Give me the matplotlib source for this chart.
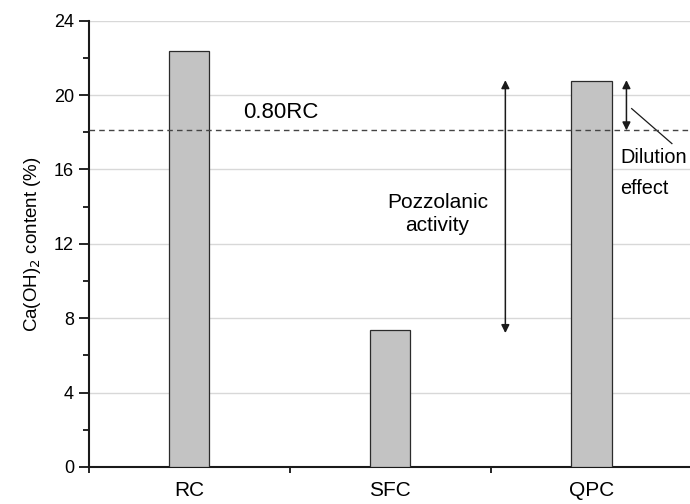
import numpy as np
import matplotlib.pyplot as plt

plt.rcParams['font.family'] = ['Liberation Sans', 'DejaVu Sans']

# data
categories = ['RC', 'SFC', 'QPC']
caoh2 = [22.35, 7.35, 20.75]
ref_level = 18.1          # 0.80 x RC
pozz_span = (7.2, 20.8)   # arrow between SFC and QPC tops
dil_span = (18.1, 20.8)   # arrow between 0.80RC and QPC

fig = plt.figure(figsize=(6.9, 5.04), dpi=100)
ax = fig.add_axes([0.1284, 0.0735, 0.8716, 0.8855])

x = np.arange(len(categories))
ax.bar(x, caoh2, width=0.2, color='#c3c3c3', edgecolor='#2b2b2b',
       linewidth=0.9, zorder=3)

ax.set_xlim(-0.5, 2.49)
ax.set_ylim(0, 24)
ax.set_yticks(np.arange(0, 25, 4))
ax.set_yticks(np.arange(2, 24, 4), minor=True)
ax.yaxis.grid(True, color='#d8d8d8', linewidth=1.0, zorder=0)
ax.set_axisbelow(True)

# tick marks between groups, labels under bars
ax.set_xticks([-0.5, 0.5, 1.5])
ax.set_xticklabels([])
ax.set_xticks(x, minor=True)
ax.set_xticklabels(categories, minor=True, fontsize=15)
ax.tick_params(axis='x', which='minor', length=0, pad=10)
ax.tick_params(axis='x', which='major', length=4, width=1.2, direction='out')
ax.tick_params(axis='y', which='major', length=7, width=1.2, labelsize=13)
ax.tick_params(axis='y', which='minor', length=4, width=1.2)

for s in ['top', 'right']:
    ax.spines[s].set_visible(False)
for s in ['left', 'bottom']:
    ax.spines[s].set_linewidth(1.5)
    ax.spines[s].set_color('#1a1a1a')

ax.set_ylabel('Ca(OH)$_2$ content (%)', fontsize=13.5, labelpad=8)

# 0.80RC reference line
ax.axhline(ref_level, color='#444444', linestyle=(0, (4, 3)), linewidth=1.0, zorder=4)
ax.text(0.27, 19.05, '0.80RC', fontsize=16, ha='left', va='center')

# pozzolanic activity arrow
ax.annotate('', xy=(1.572, pozz_span[1]), xytext=(1.572, pozz_span[0]),
            arrowprops=dict(arrowstyle='<|-|>', color='#1a1a1a', lw=1.1,
                            mutation_scale=12, shrinkA=0, shrinkB=0))
ax.text(1.234, 13.6, 'Pozzolanic\nactivity', fontsize=15, ha='center',
        va='center', linespacing=1.3)

# dilution effect arrow
ax.annotate('', xy=(2.174, dil_span[1]), xytext=(2.174, dil_span[0]),
            arrowprops=dict(arrowstyle='<|-|>', color='#1a1a1a', lw=1.1,
                            mutation_scale=12, shrinkA=0, shrinkB=0))
ax.plot([2.20, 2.40], [19.27, 17.39], color='#1a1a1a', lw=0.9)
ax.text(2.145, 16.63, 'Dilution', fontsize=14.3, ha='left', va='center')
ax.text(2.145, 15.0, 'effect', fontsize=14.3, ha='left', va='center')

fig.savefig('out.png', dpi=100)
